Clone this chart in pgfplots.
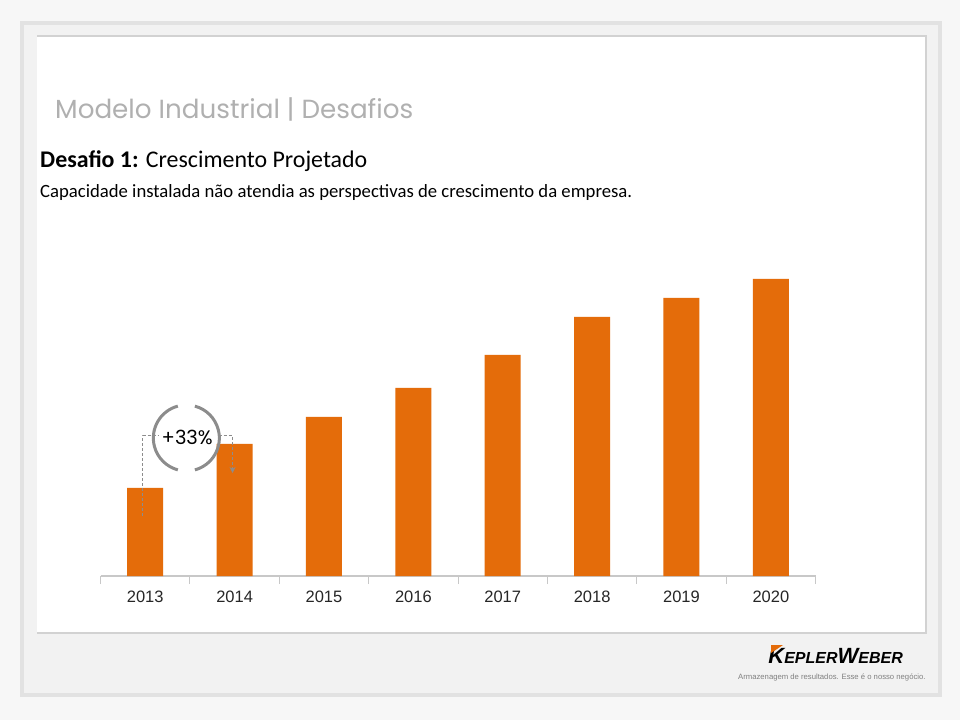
\documentclass[border=0pt]{standalone}
\usepackage{pgfplots}
\pgfplotsset{compat=1.18}
\usepackage{fontspec}
\setmainfont{Carlito}
\newfontfamily\titlefont{Poppins}
\newfontfamily\tickfont{Liberation Sans}
\usetikzlibrary{arrows.meta}
\definecolor{barorange}{HTML}{E46C0A}
\definecolor{bgouter}{HTML}{F7F7F7}
\definecolor{rulergray}{HTML}{E2E2E2}
\definecolor{innergray}{HTML}{F2F2F2}
\definecolor{panelborder}{HTML}{D2D2D2}
\definecolor{axisgray}{HTML}{C8C8C8}
\definecolor{titlegray}{HTML}{B0B0B0}
\definecolor{annogray}{HTML}{8C8C8C}
\begin{document}
\begin{tikzpicture}[x=1pt,y=1pt]
\fill[bgouter] (0,0) rectangle (960,720);
\draw[rulergray, line width=4pt, fill=innergray] (22,25) rectangle (940,697);
\draw[panelborder, line width=2pt] (38,87) rectangle (926,684);
\fill[white] (37,88) rectangle (925,683);
% texts
\node[anchor=base west, inner sep=0pt, text=titlegray, font=\titlefont\fontsize{26.2}{26.2}\selectfont] at (55,601) {Modelo Industrial | Desafios};
\node[anchor=base west, inner sep=0pt, font=\fontsize{23.9}{23.9}\selectfont] at (40,552) {\textbf{Desafio 1:} Crescimento Projetado};
\node[anchor=base west, inner sep=0pt, font=\fontsize{18.7}{18.7}\selectfont] at (40,522) {Capacidade instalada não atendia as perspectivas de crescimento da empresa.};
% logo
\node[anchor=base east, inner sep=0pt, font=\tickfont\bfseries\itshape] at (903,57) {{\fontsize{22}{22}\selectfont K}{\fontsize{16}{16}\selectfont EPLER}{\fontsize{22}{22}\selectfont W}{\fontsize{16}{16}\selectfont EBER}};
\fill[barorange] (771,75) -- (783,75) -- (771,67) -- cycle;
\node[anchor=base west, inner sep=0pt, text=gray, font=\tickfont\fontsize{7.7}{7.7}\selectfont] at (738,41) {Armazenagem de resultados. Esse é o nosso negócio.};
\begin{axis}[
  at={(112.5,144)}, anchor=south west,
  scale only axis, width=715pt, height=300pt,
  xmin=-0.5, xmax=7.5, ymin=0, ymax=300,
  axis x line*=bottom, axis y line=none,
  x axis line style={draw=axisgray, line width=1pt},
  xtick={0,...,7}, xticklabels={2013,2014,2015,2016,2017,2018,2019,2020},
  major tick length=0pt,
  minor xtick={-0.5,0.5,...,7.5}, minor tick length=8pt, tick align=outside,
  minor tick style={draw=axisgray, line width=1pt},
  xticklabel style={font=\tickfont\fontsize{16.5}{16.5}\selectfont, text=black!85, yshift=-11pt},
  clip=false,
]
\addplot[ybar, bar width=36pt, fill=barorange, draw=none] coordinates {
  (0,88) (1,132) (2,159) (3,188) (4,221) (5,259) (6,278) (7,297)
};
\draw[annogray, line width=1pt, dash pattern=on 3pt off 2pt] (axis cs:-0.03,60) -- (axis cs:-0.03,140) -- (axis cs:0.15,140);
\draw[annogray, line width=1pt, dash pattern=on 3pt off 2pt, -{Stealth[length=6pt,width=6pt]}] (axis cs:0.82,140) -- (axis cs:0.977,140) -- (axis cs:0.977,103);
\draw[annogray, line width=3pt] (axis cs:0.46,138) ++(105:33pt) arc (105:255:33pt);
\draw[annogray, line width=3pt] (axis cs:0.46,138) ++(-75:33pt) arc (-75:75:33pt);
\node[fill=white, inner sep=1pt, font=\titlefont\fontsize{19.5}{19.5}\selectfont] at (axis cs:0.47,139) {+33\%};
\end{axis}
\end{tikzpicture}
\end{document}
